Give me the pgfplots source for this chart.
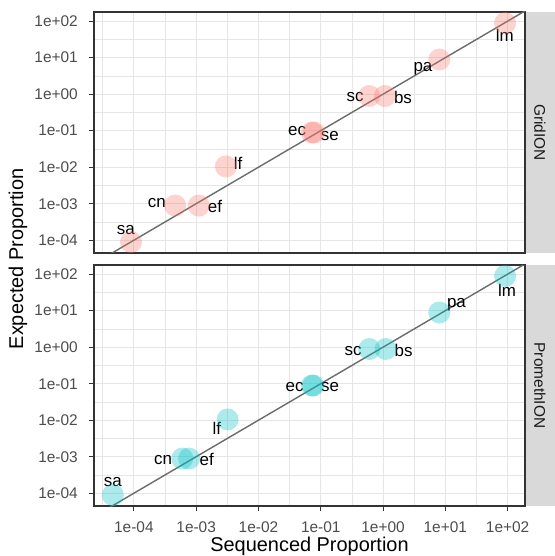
\documentclass[border=0pt]{standalone}
\usepackage{fontspec}
\setmainfont{Liberation Sans}
\usepackage{pgfplots}
\pgfplotsset{compat=1.18}

\definecolor{ggred}{HTML}{F8766D}
\definecolor{ggcyan}{HTML}{00BFC4}
\definecolor{gridcol}{HTML}{E6E6E6}
\definecolor{tickcol}{HTML}{4D4D4D}
\definecolor{bordercol}{HTML}{333333}
\definecolor{stripcol}{HTML}{D9D9D9}
\definecolor{linecol}{HTML}{6B6B6B}

\tikzset{lab/.style={font=\fontsize{17}{17}\selectfont, text=black, inner sep=0pt}}

\begin{document}
\begin{tikzpicture}
\useasboundingbox (0,0) rectangle (555bp,556bp);

% strips
\fill[stripcol] (525bp,303bp) rectangle (555bp,544bp);
\fill[stripcol] (525bp,50bp) rectangle (555bp,291bp);
\node[rotate=-90, text=black!90, font=\fontsize{15.5}{15.5}\selectfont] at (540bp,423.5bp) {GridION};
\node[rotate=-90, text=black!90, font=\fontsize{15.5}{15.5}\selectfont] at (540bp,170.5bp) {PromethION};

% ---- GridION ----
\begin{axis}[at={(94bp,303bp)}, anchor=south west,
    scale only axis, width=431bp, height=241bp,
    xmode=log, ymode=log,
    xmin=2.29e-5, xmax=190, ymin=4.47e-5, ymax=178,
    xtick={1e-4,1e-3,1e-2,1e-1,1,10,100},
    ytick={1e-4,1e-3,1e-2,1e-1,1,10,100},
    xticklabels={},
    yticklabels={1e-04,1e-03,1e-02,1e-01,1e+00,1e+01,1e+02},
    minor xtick={3.162e-5,3.162e-4,3.162e-3,3.162e-2,0.3162,3.162,31.62},
    minor ytick={3.162e-4,3.162e-3,3.162e-2,0.3162,3.162,31.62},
    xmajorgrids, ymajorgrids, xminorgrids, yminorgrids,
    major grid style={gridcol, line width=1.1bp},
    minor grid style={gridcol, line width=0.55bp},
    axis line style={bordercol, line width=1.1bp},
    tick align=outside, major tick length=5bp, minor tick length=0pt,
    tick style={bordercol, line width=1.1bp},
    xmajorticks=false, ytick pos=left,
    yticklabel style={font=\fontsize{15.5}{15.5}\selectfont, text=tickcol, inner sep=0pt, anchor=east, xshift=-11bp},
  ]
\addplot[only marks, mark=*, mark size=11bp, mark options={ggred, fill opacity=0.32, draw opacity=0}] coordinates {
  (9e-5,8.9e-5) (4.6e-4,8.9e-4) (1.1e-3,8.9e-4) (3.0e-3,1.05e-2)
  (0.072,0.089) (0.078,0.089) (0.6,0.89) (1.07,0.89) (8.0,8.9) (91,89.1)
};
\addplot[linecol, line width=1.4bp] coordinates {(1e-6,1e-6) (1e3,1e3)};
\node[lab] at (axis cs:7.4e-5,1.95e-4) {sa};
\node[lab] at (axis cs:2.34e-4,1.02e-3) {cn};
\node[lab] at (axis cs:2.0e-3,8.5e-4) {ef};
\node[lab] at (axis cs:4.7e-3,1.29e-2) {lf};
\node[lab] at (axis cs:4.17e-2,9.8e-2) {ec};
\node[lab] at (axis cs:0.14,7.1e-2) {se};
\node[lab] at (axis cs:0.355,0.83) {sc};
\node[lab] at (axis cs:2.09,0.83) {bs};
\node[lab] at (axis cs:4.37,4.9) {pa};
\node[lab] at (axis cs:90,39.8) {lm};
\end{axis}

% ---- PromethION ----
\begin{axis}[at={(94bp,50bp)}, anchor=south west,
    scale only axis, width=431bp, height=241bp,
    xmode=log, ymode=log,
    xmin=2.29e-5, xmax=190, ymin=4.47e-5, ymax=178,
    xtick={1e-4,1e-3,1e-2,1e-1,1,10,100},
    ytick={1e-4,1e-3,1e-2,1e-1,1,10,100},
    xticklabels={1e-04,1e-03,1e-02,1e-01,1e+00,1e+01,1e+02},
    yticklabels={1e-04,1e-03,1e-02,1e-01,1e+00,1e+01,1e+02},
    minor xtick={3.162e-5,3.162e-4,3.162e-3,3.162e-2,0.3162,3.162,31.62},
    minor ytick={3.162e-4,3.162e-3,3.162e-2,0.3162,3.162,31.62},
    xmajorgrids, ymajorgrids, xminorgrids, yminorgrids,
    major grid style={gridcol, line width=1.1bp},
    minor grid style={gridcol, line width=0.55bp},
    axis line style={bordercol, line width=1.1bp},
    tick align=outside, major tick length=5bp, minor tick length=0pt,
    tick style={bordercol, line width=1.1bp},
    xtick pos=bottom, ytick pos=left,
    yticklabel style={font=\fontsize{15.5}{15.5}\selectfont, text=tickcol, inner sep=0pt, anchor=east, xshift=-11bp},
    xticklabel style={font=\fontsize{15.5}{15.5}\selectfont, text=tickcol, inner sep=0pt, anchor=base, yshift=-21bp},
  ]
\addplot[only marks, mark=*, mark size=11bp, mark options={ggcyan, fill opacity=0.32, draw opacity=0}] coordinates {
  (4.6e-5,8.9e-5) (6.0e-4,8.9e-4) (7.7e-4,8.9e-4) (3.2e-3,1.05e-2)
  (0.072,0.089) (0.076,0.089) (0.6,0.89) (1.1,0.89) (8.0,8.9) (91,89.1)
};
\addplot[linecol, line width=1.4bp] coordinates {(1e-6,1e-6) (1e3,1e3)};
\node[lab] at (axis cs:4.6e-5,2.0e-4) {sa};
\node[lab] at (axis cs:2.95e-4,8.3e-4) {cn};
\node[lab] at (axis cs:1.48e-3,8.3e-4) {ef};
\node[lab] at (axis cs:2.14e-3,5.9e-3) {lf};
\node[lab] at (axis cs:3.8e-2,8.1e-2) {ec};
\node[lab] at (axis cs:0.141,8.1e-2) {se};
\node[lab] at (axis cs:0.33,0.78) {sc};
\node[lab] at (axis cs:2.14,0.83) {bs};
\node[lab] at (axis cs:15.1,14.8) {pa};
\node[lab] at (axis cs:97.7,36.3) {lm};
\end{axis}

% axis titles
\node[rotate=90, font=\fontsize{20}{20}\selectfont] at (18bp,297bp) {Expected Proportion};
\node[anchor=base, font=\fontsize{20}{20}\selectfont] at (309.5bp,4.5bp) {Sequenced Proportion};
\end{tikzpicture}
\end{document}
